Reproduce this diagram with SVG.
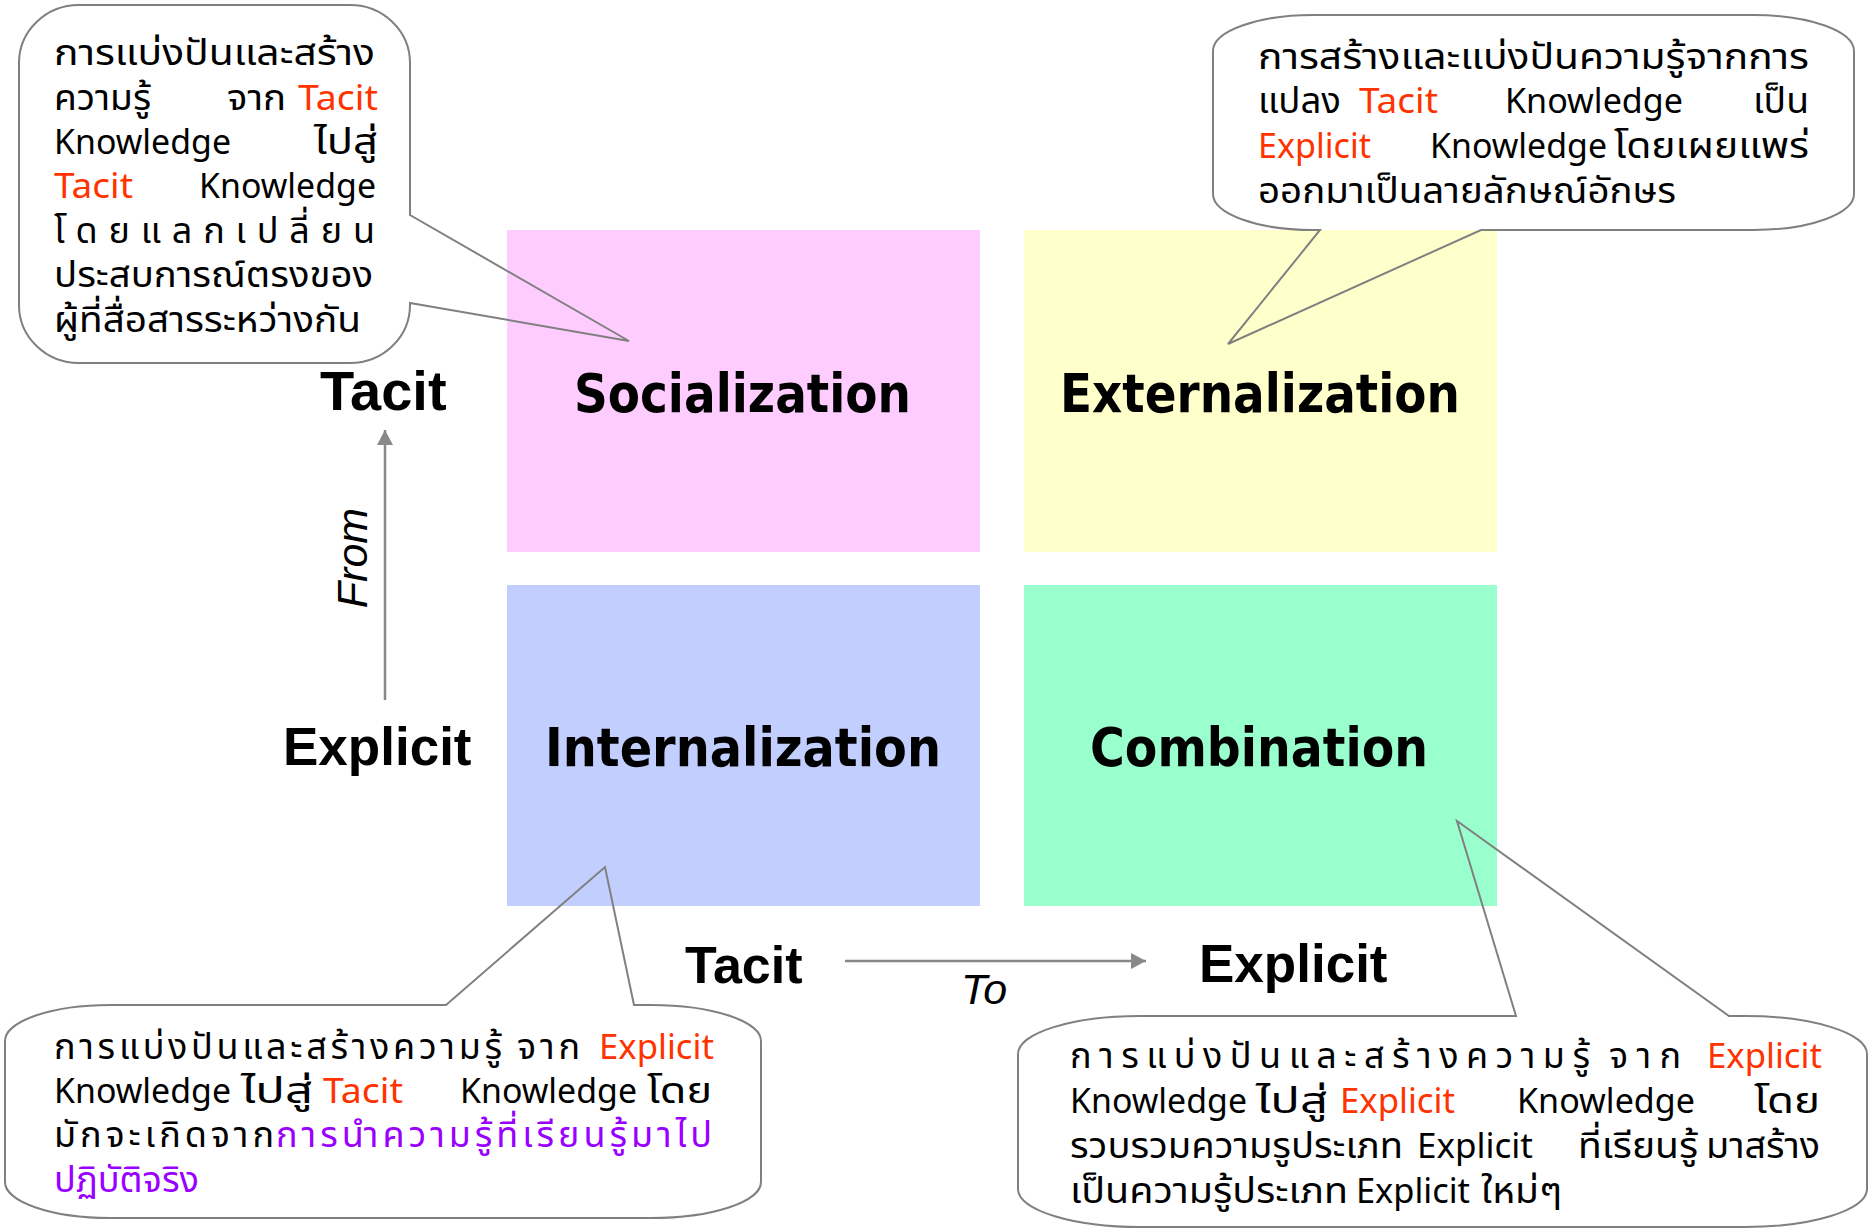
<svg xmlns="http://www.w3.org/2000/svg" width="1872" height="1229" viewBox="0 0 1872 1229">
<style>
.q{font-family:Tahoma,"DejaVu Sans",sans-serif;font-weight:bold;font-size:53px;fill:#000}
.ax{font-family:"Liberation Sans",Arial,sans-serif;font-weight:bold;fill:#000}
.it{font-family:"Liberation Sans",Arial,sans-serif;font-style:italic;font-size:43px;fill:#000}
.t{font-family:Tahoma,"Noto Sans Thai","Noto Sans Thai UI","Loma","Garuda","Waree","Norasi","DejaVu Sans","Noto Sans",sans-serif;font-size:34px;fill:#000}
.th{font-size:36px}
.r{fill:#FF3300}
.p{fill:#9900FF}
.co{fill:none;stroke:#808080;stroke-width:2;stroke-linejoin:miter}
.ar{stroke:#888;stroke-width:2.5;fill:none}
</style>
<defs>
<marker id="ah" markerWidth="16" markerHeight="16" refX="15" refY="8" orient="auto" markerUnits="userSpaceOnUse">
<path d="M0,0 L15,8 L0,16 Z" fill="#888"/>
</marker>
</defs>
<rect width="1872" height="1229" fill="#fff"/>

<g id="socialization">
<rect x="507" y="230" width="473" height="322" fill="#FFCCFF"/>
<text class="q" x="574" y="412" textLength="337" lengthAdjust="spacingAndGlyphs">Socialization</text>
</g>
<g id="externalization">
<rect x="1024" y="230" width="473" height="322" fill="#FFFFCC"/>
<text class="q" x="1060" y="412" textLength="400" lengthAdjust="spacingAndGlyphs">Externalization</text>
</g>
<g id="internalization">
<rect x="507" y="585" width="473" height="321" fill="#C2CEFD"/>
<text class="q" x="545" y="766" textLength="396" lengthAdjust="spacingAndGlyphs">Internalization</text>
</g>
<g id="combination">
<rect x="1024" y="585" width="473" height="321" fill="#99FFCC"/>
<text class="q" x="1090" y="766" textLength="338" lengthAdjust="spacingAndGlyphs">Combination</text>
</g>

<g id="axis-labels">
<text class="ax" x="320" y="410" font-size="56">Tacit</text>
<text class="ax" x="283" y="765" font-size="53">Explicit</text>
<text class="ax" x="685" y="983" font-size="52">Tacit</text>
<text class="ax" x="1199" y="982" font-size="53">Explicit</text>
<text class="it" transform="translate(367,558) rotate(-90)" text-anchor="middle">From</text>
<text class="it" x="961" y="1004">To</text>
</g>

<g id="connectors">
<line class="ar" x1="385" y1="700" x2="385" y2="430" marker-end="url(#ah)"/>
<line class="ar" x1="845" y1="961" x2="1146" y2="961" marker-end="url(#ah)"/>
</g>

<g id="callout-socialization">
<path class="co" d="M79,5 H350 A60 58 0 0 1 410 63 V215 L629 341 L410 303 V305 A60 58 0 0 1 350 363 H79 A60 58 0 0 1 19 305 V63 A60 58 0 0 1 79 5 Z"/>
<text class="t th" x="54" y="65" textLength="321" lengthAdjust="spacingAndGlyphs">การแบ่งปันและสร้าง</text>
<text class="t th" x="54" y="110" textLength="97" lengthAdjust="spacingAndGlyphs">ความรู้</text>
<text class="t th" x="227" y="110" textLength="59" lengthAdjust="spacingAndGlyphs">จาก</text>
<text class="t r" x="298" y="110" textLength="80" lengthAdjust="spacingAndGlyphs">Tacit</text>
<text class="t" x="54" y="154" textLength="177" lengthAdjust="spacingAndGlyphs">Knowledge</text>
<text class="t th" x="314" y="154" textLength="64" lengthAdjust="spacingAndGlyphs">ไปสู่</text>
<text class="t r" x="54" y="198" textLength="79" lengthAdjust="spacingAndGlyphs">Tacit</text>
<text class="t" x="199" y="198" textLength="177" lengthAdjust="spacingAndGlyphs">Knowledge</text>
<text class="t th" x="54" y="243" textLength="321" lengthAdjust="spacing">โดยแลกเปลี่ยน</text>
<text class="t th" x="54" y="287" textLength="319" lengthAdjust="spacingAndGlyphs">ประสบการณ์ตรงของ</text>
<text class="t th" x="54" y="332" textLength="307" lengthAdjust="spacingAndGlyphs">ผู้ที่สื่อสารระหว่างกัน</text>
</g>

<g id="callout-externalization">
<path class="co" d="M1313,15 H1754 A100 36 0 0 1 1854 51 V194 A100 36 0 0 1 1754 230 H1481 L1228 344 L1320 230 H1313 A100 36 0 0 1 1213 194 V51 A100 36 0 0 1 1313 15 Z"/>
<text class="t th" x="1258" y="69" textLength="551" lengthAdjust="spacingAndGlyphs">การสร้างและแบ่งปันความรู้จากการ</text>
<text class="t th" x="1258" y="113" textLength="83" lengthAdjust="spacingAndGlyphs">แปลง</text>
<text class="t r" x="1359" y="113" textLength="79" lengthAdjust="spacingAndGlyphs">Tacit</text>
<text class="t" x="1505" y="113" textLength="178" lengthAdjust="spacingAndGlyphs">Knowledge</text>
<text class="t th" x="1753" y="113" textLength="56" lengthAdjust="spacingAndGlyphs">เป็น</text>
<text class="t r" x="1258" y="158" textLength="113" lengthAdjust="spacingAndGlyphs">Explicit</text>
<text class="t" x="1430" y="158" textLength="177" lengthAdjust="spacingAndGlyphs">Knowledge</text>
<text class="t th" x="1614" y="158" textLength="195" lengthAdjust="spacingAndGlyphs">โดยเผยแพร่</text>
<text class="t th" x="1258" y="203" textLength="418" lengthAdjust="spacingAndGlyphs">ออกมาเป็นลายลักษณ์อักษร</text>
</g>

<g id="callout-internalization">
<path class="co" d="M110,1005 H446 L605 867 L634 1005 H651 A110 36 0 0 1 761 1041 V1182 A110 36 0 0 1 651 1218 H110 A105 36 0 0 1 5 1182 V1041 A105 36 0 0 1 110 1005 Z"/>
<text class="t th" x="54" y="1059" textLength="448" lengthAdjust="spacing">การแบ่งปันและสร้างความรู้</text>
<text class="t th" x="517" y="1059" textLength="63" lengthAdjust="spacing">จาก</text>
<text class="t r" x="599" y="1059" textLength="115" lengthAdjust="spacingAndGlyphs">Explicit</text>
<text class="t" x="54" y="1103" textLength="177" lengthAdjust="spacingAndGlyphs">Knowledge</text>
<text class="t th" x="241" y="1103" textLength="72" lengthAdjust="spacingAndGlyphs">ไปสู่</text>
<text class="t r" x="323" y="1103" textLength="80" lengthAdjust="spacingAndGlyphs">Tacit</text>
<text class="t" x="460" y="1103" textLength="177" lengthAdjust="spacingAndGlyphs">Knowledge</text>
<text class="t th" x="647" y="1103" textLength="65" lengthAdjust="spacingAndGlyphs">โดย</text>
<text class="t th" x="54" y="1147" textLength="220" lengthAdjust="spacing">มักจะเกิดจาก</text>
<text class="t th p" x="276" y="1147" textLength="436" lengthAdjust="spacing">การนำความรู้ที่เรียนรู้มาไป</text>
<text class="t th p" x="54" y="1192" textLength="145" lengthAdjust="spacingAndGlyphs">ปฏิบัติจริง</text>
</g>

<g id="callout-combination">
<path class="co" d="M1140,1016 H1516 L1457 821 L1729 1016 H1745 A122 38 0 0 1 1867 1054 V1190 A122 38 0 0 1 1745 1227 H1140 A122 38 0 0 1 1018 1190 V1054 A122 38 0 0 1 1140 1016 Z"/>
<text class="t th" x="1070" y="1068" textLength="520" lengthAdjust="spacing">การแบ่งปันและสร้างความรู้</text>
<text class="t th" x="1609" y="1068" textLength="72" lengthAdjust="spacing">จาก</text>
<text class="t r" x="1707" y="1068" textLength="115" lengthAdjust="spacingAndGlyphs">Explicit</text>
<text class="t" x="1070" y="1113" textLength="177" lengthAdjust="spacingAndGlyphs">Knowledge</text>
<text class="t th" x="1256" y="1113" textLength="72" lengthAdjust="spacingAndGlyphs">ไปสู่</text>
<text class="t r" x="1340" y="1113" textLength="115" lengthAdjust="spacingAndGlyphs">Explicit</text>
<text class="t" x="1517" y="1113" textLength="178" lengthAdjust="spacingAndGlyphs">Knowledge</text>
<text class="t th" x="1754" y="1113" textLength="66" lengthAdjust="spacingAndGlyphs">โดย</text>
<text class="t th" x="1070" y="1158" textLength="333" lengthAdjust="spacingAndGlyphs">รวบรวมความรูประเภท</text>
<text class="t" x="1417" y="1158" textLength="116" lengthAdjust="spacingAndGlyphs">Explicit</text>
<text class="t th" x="1578" y="1158" textLength="120" lengthAdjust="spacingAndGlyphs">ที่เรียนรู้</text>
<text class="t th" x="1706" y="1158" textLength="114" lengthAdjust="spacingAndGlyphs">มาสร้าง</text>
<text class="t th" x="1070" y="1203" textLength="278" lengthAdjust="spacingAndGlyphs">เป็นความรู้ประเภท</text>
<text class="t" x="1356" y="1203" textLength="114" lengthAdjust="spacingAndGlyphs">Explicit</text>
<text class="t th" x="1481" y="1203" textLength="81" lengthAdjust="spacingAndGlyphs">ใหม่ๆ</text>
</g>
</svg>
